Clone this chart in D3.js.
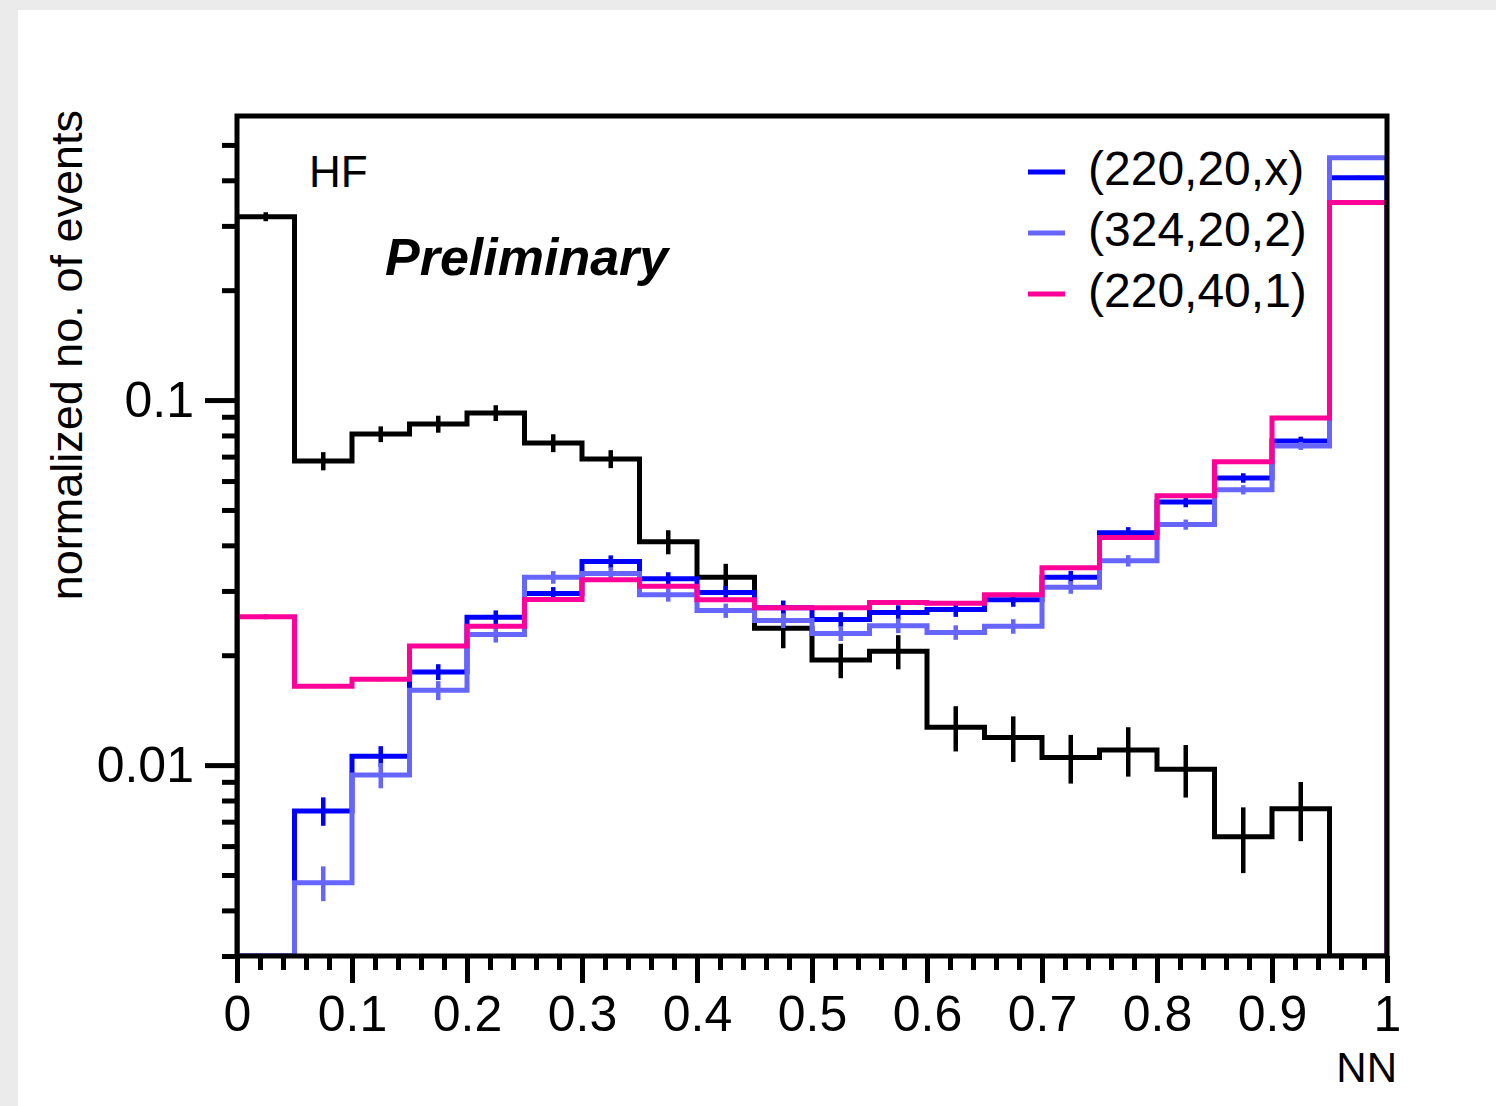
<!DOCTYPE html>
<html>
<head>
<meta charset="utf-8">
<script src="https://cdn.jsdelivr.net/npm/d3@7"></script>
<style>
  html, body { margin: 0; padding: 0; background: #ebebeb; }
  svg { display: block; }
  text { font-family: "Liberation Sans", Arial, Helvetica, sans-serif; fill: #000; }
</style>
</head>
<body>
<svg id="chart" width="1496" height="1106"></svg>
<script>
// ---------------- DATA ----------------
const binLow = [0, 0.05, 0.10, 0.15, 0.20, 0.25, 0.30, 0.35, 0.40, 0.45,
                0.50, 0.55, 0.60, 0.65, 0.70, 0.75, 0.80, 0.85, 0.90, 0.95];
const binWidth = 0.05;

const xTickValues = [0, 0.1, 0.2, 0.3, 0.4, 0.5, 0.6, 0.7, 0.8, 0.9, 1];
const xTickLabels = ["0", "0.1", "0.2", "0.3", "0.4", "0.5", "0.6", "0.7", "0.8", "0.9", "1"];
const yTickValues = [0.01, 0.1];
const yTickLabels = ["0.01", "0.1"];
const yMinorTicks = [0.003, 0.004, 0.005, 0.006, 0.007, 0.008, 0.009,
                     0.02, 0.03, 0.04, 0.05, 0.06, 0.07, 0.08, 0.09,
                     0.2, 0.3, 0.4, 0.5];

// HF (black)
const hfValues = [0.318, 0.0681, 0.0807, 0.0860, 0.0922, 0.0763, 0.0690, 0.0409, 0.0327, 0.0237,
                  0.0194, 0.0205, 0.0127, 0.0119, 0.0105, 0.0110, 0.00975, 0.00636, 0.00759, 0];
const hfErrors = [0.009, 0.0039, 0.0040, 0.0046, 0.0046, 0.0043, 0.0039, 0.0031, 0.0029, 0.0028,
                  0.0021, 0.0022, 0.0018, 0.0017, 0.0016, 0.0017, 0.0016, 0.0013, 0.0014, 0];

// (220,20,x)
const s1Values = [0, 0.00749, 0.01058, 0.0180, 0.0254, 0.0295, 0.0361, 0.0324, 0.0297, 0.0270,
                  0.02506, 0.0262, 0.0267, 0.0284, 0.0327, 0.0433, 0.0526, 0.0612, 0.0773, 0.4067];
const s1Errors = [0, 0.00067, 0.00069, 0.00090, 0.00114, 0.00124, 0.00144, 0.00136, 0.00131, 0.00124,
                  0.00118, 0.00120, 0.00123, 0.00125, 0.00134, 0.00156, 0.00174, 0.00184, 0.00209, 0.0049];

// (324,20,2)
const s2Values = [0, 0.00476, 0.00939, 0.01603, 0.0228, 0.0327, 0.0335, 0.0293, 0.0265, 0.0249,
                  0.02295, 0.0241, 0.0231, 0.0240, 0.0307, 0.0363, 0.0456, 0.0568, 0.0749, 0.461];
const s2Errors = [0, 0.00052, 0.00075, 0.00096, 0.00114, 0.00131, 0.00134, 0.00126, 0.00119, 0.00115,
                  0.00108, 0.00111, 0.00106, 0.00110, 0.00123, 0.00131, 0.00146, 0.00165, 0.00190, 0.0046];

// (220,40,1)
const s3Values = [0.0255, 0.01645, 0.01718, 0.0212, 0.0240, 0.02844, 0.0322, 0.0309, 0.0284, 0.0270,
                  0.0270, 0.0279, 0.02775, 0.0293, 0.0347, 0.0420, 0.0547, 0.0678, 0.0893, 0.3475];
const s3Errors = [0.0004, 0.0002, 0.0002, 0.00025, 0.0003, 0.0003, 0.0003, 0.0003, 0.0003, 0.0003,
                  0.0003, 0.0003, 0.0003, 0.0003, 0.0004, 0.0004, 0.0005, 0.0006, 0.0008, 0.0030];

const seriesNames = ["HF", "(220,20,x)", "(324,20,2)", "(220,40,1)"];
const seriesColors = ["#000000", "#0000ff", "#6666ff", "#ff0099"];
const legendNames = ["(220,20,x)", "(324,20,2)", "(220,40,1)"];
const legendColors = ["#0000ff", "#6666ff", "#ff0099"];

// ---------------- LAYOUT ----------------
const svg = d3.select("#chart");
const W = 1496, H = 1106;
const plot = { left: 237, right: 1387, top: 116, bottom: 956 };
const FONT = 50;

svg.append("rect").attr("x", 0).attr("y", 0).attr("width", W).attr("height", H).attr("fill", "#ebebeb");
svg.append("rect").attr("x", 18).attr("y", 10).attr("width", W - 18).attr("height", H - 10).attr("fill", "#ffffff");

const x = d3.scaleLinear().domain([0, 1]).range([plot.left, plot.right]);
const y = d3.scaleLog().domain([0.003, 0.6]).range([plot.bottom, plot.top]);
const yMin = 0.003;

svg.append("clipPath").attr("id", "plotclip")
  .append("rect").attr("x", plot.left).attr("y", plot.top)
  .attr("width", plot.right - plot.left).attr("height", plot.bottom - plot.top);

const g = svg.append("g").attr("clip-path", "url(#plotclip)");

const allSeries = [
  { values: hfValues, errors: hfErrors, color: seriesColors[0] },
  { values: s1Values, errors: s1Errors, color: seriesColors[1] },
  { values: s2Values, errors: s2Errors, color: seriesColors[2] },
  { values: s3Values, errors: s3Errors, color: seriesColors[3] }
];

const line = d3.line().x(d => d[0]).y(d => d[1]);

allSeries.forEach(s => {
  const pts = [[x(binLow[0]), y(yMin)]];
  s.values.forEach((v, i) => {
    const vv = Math.max(v, yMin);
    pts.push([x(binLow[i]), y(vv)]);
    pts.push([x(binLow[i] + binWidth), y(vv)]);
  });
  pts.push([x(binLow[binLow.length - 1] + binWidth), y(yMin)]);
  g.append("path").attr("d", line(pts))
    .attr("fill", "none").attr("stroke", s.color)
    .attr("stroke-width", 5).attr("stroke-linejoin", "miter");

  // error bars
  s.values.forEach((v, i) => {
    const e = s.errors[i];
    if (v <= 0 || e <= 0) return;
    const cx = x(binLow[i] + binWidth / 2);
    g.append("line")
      .attr("x1", cx).attr("x2", cx)
      .attr("y1", y(Math.max(v - e, yMin))).attr("y2", y(v + e))
      .attr("stroke", s.color).attr("stroke-width", 4.5);
  });
});

// ---------------- AXES ----------------
const xMajor = d3.axisBottom(x).tickValues(xTickValues).tickSize(27).tickPadding(12)
  .tickFormat((d, i) => xTickLabels[i]);
const xMinorVals = d3.range(0, 51).map(i => i * 0.02).filter(v => Math.abs(v * 10 - Math.round(v * 10)) > 1e-6);
const xMinor = d3.axisBottom(x).tickValues(xMinorVals).tickSize(14).tickFormat("");

const gxMinor = svg.append("g").attr("transform", `translate(0,${plot.bottom})`).call(xMinor);
const gx = svg.append("g").attr("transform", `translate(0,${plot.bottom})`).call(xMajor);

const yMajor = d3.axisLeft(y).tickValues(yTickValues).tickSize(32).tickPadding(11)
  .tickFormat((d, i) => yTickLabels[i]);
const yMinorAxis = d3.axisLeft(y).tickValues(yMinorTicks).tickSize(15).tickFormat("");

const gyMinor = svg.append("g").attr("transform", `translate(${plot.left},0)`).call(yMinorAxis);
const gy = svg.append("g").attr("transform", `translate(${plot.left},0)`).call(yMajor);

[gx, gxMinor, gy, gyMinor].forEach(a => {
  a.select(".domain").remove();
  a.selectAll(".tick line").attr("stroke", "#000").attr("stroke-width", 5);
  a.selectAll(".tick text").style("font-size", FONT + "px")
    .style("font-family", '"Liberation Sans", Arial, Helvetica, sans-serif').attr("fill", "#000");
});

// frame
svg.append("rect")
  .attr("x", plot.left).attr("y", plot.top)
  .attr("width", plot.right - plot.left).attr("height", plot.bottom - plot.top)
  .attr("fill", "none").attr("stroke", "#000").attr("stroke-width", 5);

// ---------------- TEXT ----------------
svg.append("text")
  .attr("transform", "translate(82,110) rotate(-90)")
  .attr("text-anchor", "end")
  .style("font-size", "45px")
  .text("normalized no. of events");

svg.append("text")
  .attr("x", 1397).attr("y", 1082)
  .attr("text-anchor", "end")
  .style("font-size", "42px")
  .text("NN");

svg.append("text")
  .attr("x", 309).attr("y", 187)
  .style("font-size", "44px")
  .text("HF");

svg.append("text")
  .attr("x", 385).attr("y", 275)
  .style("font-size", "52px").style("font-weight", "bold").style("font-style", "italic")
  .text("Preliminary");

// legend
const legendY0 = 172, legendDy = 61;
legendNames.forEach((name, i) => {
  const ly = legendY0 + i * legendDy;
  svg.append("line")
    .attr("x1", 1028).attr("x2", 1065).attr("y1", ly).attr("y2", ly)
    .attr("stroke", legendColors[i]).attr("stroke-width", 5);
  svg.append("text")
    .attr("x", 1088).attr("y", ly + 13)
    .style("font-size", "48px")
    .text(name);
});
</script>
</body>
</html>
